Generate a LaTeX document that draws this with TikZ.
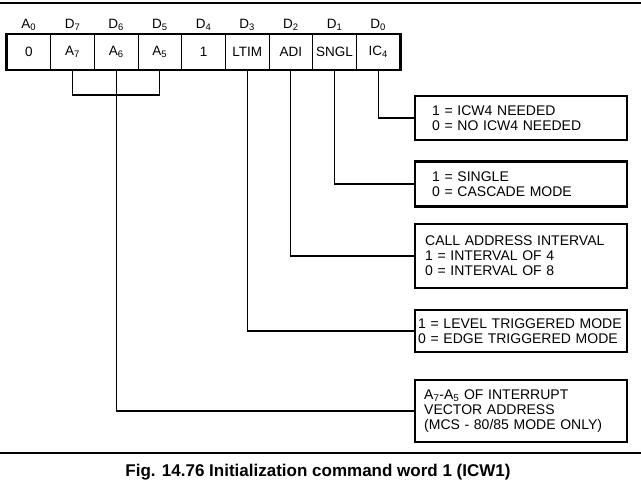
\documentclass[tikz,border=0pt]{standalone}
\usepackage{fontspec}
\setmainfont{Liberation Sans}
\usetikzlibrary{positioning}

\begin{document}
\begin{tikzpicture}[x=1pt, y=-1pt,
	bit/.style={draw, rectangle, line width=1pt, minimum width=43.67pt,
		minimum height=35pt, inner sep=0pt, font=\fontsize{13.5}{15}\selectfont},
	bitname/.style={anchor=base, inner sep=0pt, font=\fontsize{13.5}{15}\selectfont},
	note/.style={draw, rectangle, line width=2.4pt, anchor=west, align=left,
		inner ysep=2pt, font=\fontsize{14}{15}\selectfont},
	wire/.style={line width=1.1pt}]
	\def \cellw {43.67}
	\def \boxl {414}
	
	\useasboundingbox (0,0) rectangle (641,483);
	
	% the register
	\node[bit] (a0) at ({7 + \cellw * 0.5}, 52) {0};
	\node[bit] (d7) at ({7 + \cellw * 1.5}, 52) {A\textsubscript{7}};
	\node[bit] (d6) at ({7 + \cellw * 2.5}, 52) {A\textsubscript{6}};
	\node[bit] (d5) at ({7 + \cellw * 3.5}, 52) {A\textsubscript{5}};
	\node[bit] (d4) at ({7 + \cellw * 4.5}, 52) {1};
	\node[bit] (d3) at ({7 + \cellw * 5.5}, 52) {LTIM};
	\node[bit] (d2) at ({7 + \cellw * 6.5}, 52) {ADI};
	\node[bit] (d1) at ({7 + \cellw * 7.5}, 52) {SNGL};
	\node[bit] (d0) at ({7 + \cellw * 8.5}, 52) {IC\textsubscript{4}};
	\draw[line width=2.6pt] (a0.north west) rectangle (d0.south east);
	
	\node[bitname] (la0) at ({7 + \cellw * 0.5}, 28) {A\textsubscript{0}};
	\node[bitname] (ld7) at ({7 + \cellw * 1.5}, 28) {D\textsubscript{7}};
	\node[bitname] (ld6) at ({7 + \cellw * 2.5}, 28) {D\textsubscript{6}};
	\node[bitname] (ld5) at ({7 + \cellw * 3.5}, 28) {D\textsubscript{5}};
	\node[bitname] (ld4) at ({7 + \cellw * 4.5}, 28) {D\textsubscript{4}};
	\node[bitname] (ld3) at ({7 + \cellw * 5.5}, 28) {D\textsubscript{3}};
	\node[bitname] (ld2) at ({7 + \cellw * 6.5}, 28) {D\textsubscript{2}};
	\node[bitname] (ld1) at ({7 + \cellw * 7.5}, 28) {D\textsubscript{1}};
	\node[bitname] (ld0) at ({7 + \cellw * 8.5}, 28) {D\textsubscript{0}};
	
	% the notes
	\node[note, inner xsep=17pt, text width=178pt, minimum height=44pt] (icwfour)
		at (\boxl, 118) {1 = ICW4 NEEDED\\0 = NO ICW4 NEEDED};
	\node[note, inner xsep=17pt, text width=178pt, minimum height=45pt] (single)
		at (\boxl, 184) {1 = SINGLE\\0 = CASCADE MODE};
	\node[note, inner xsep=10pt, text width=192pt, minimum height=64pt] (interval)
		at (\boxl, 256) {CALL ADDRESS INTERVAL\\1 = INTERVAL OF 4\\0 = INTERVAL OF 8};
	\node[note, inner xsep=3pt, text width=206pt, minimum height=42pt] (trigger)
		at (\boxl, 331) {1 = LEVEL TRIGGERED MODE\\0 = EDGE TRIGGERED MODE};
	\node[note, inner xsep=9pt, text width=194pt, minimum height=62pt] (vector)
		at (\boxl, 411) {A\textsubscript{7}-A\textsubscript{5} OF INTERRUPT\\VECTOR ADDRESS\\(MCS - 80/85 MODE ONLY)};
	
	\draw[wire] (d0.south) |- (icwfour.west);
	\draw[wire] (d1.south) |- (single.west);
	\draw[wire] (d2.south) |- (interval.west);
	\draw[wire] (d3.south) |- (trigger.west);
	\draw[wire] (d7.south) -- ++(0,25) -| (d5.south);
	\draw[wire] (d6.south) |- (vector.west);
	
	\draw[line width=1.2pt] (0,3) -- (641,3);
	\draw[line width=1.2pt] (0,453) -- (641,453);
	
	\node[anchor=base, font=\bfseries\fontsize{17}{19}\selectfont] (caption)
		at (318,476) {Fig. 14.76 Initialization command word 1 (ICW1)};
\end{tikzpicture}
\end{document}
